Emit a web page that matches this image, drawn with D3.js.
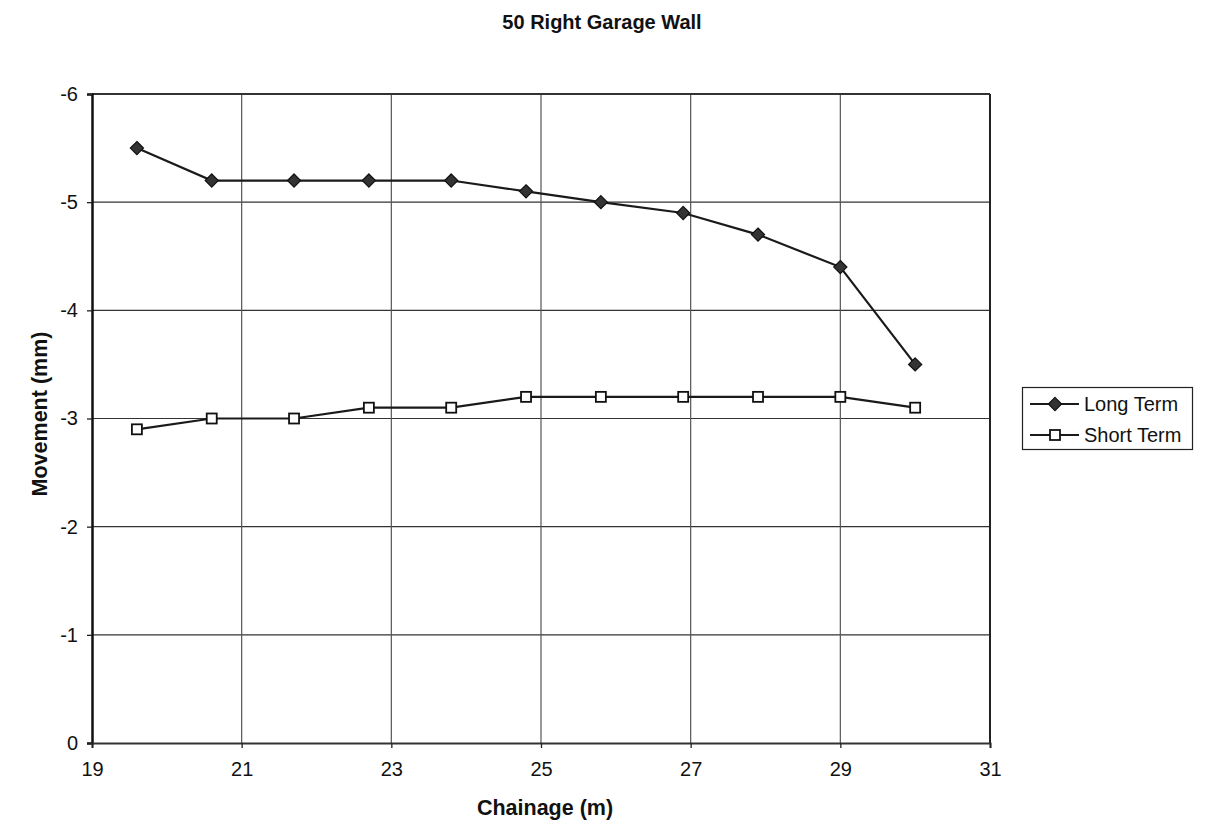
<!DOCTYPE html>
<html><head><meta charset="utf-8">
<script src="https://cdn.jsdelivr.net/npm/d3@7"></script>
<style>body{margin:0;background:#fff;} svg{display:block;}</style>
</head><body>
<svg id="c" width="1221" height="823"></svg>
<script>
const chainage = [19.6, 20.6, 21.7, 22.7, 23.8, 24.8, 25.8, 26.9, 27.9, 29.0, 30.0];
const longTerm = [-5.5, -5.2, -5.2, -5.2, -5.2, -5.1, -5.0, -4.9, -4.7, -4.4, -3.5];
const shortTerm = [-2.9, -3.0, -3.0, -3.1, -3.1, -3.2, -3.2, -3.2, -3.2, -3.2, -3.1];
const xTicks = [19, 21, 23, 25, 27, 29, 31];
const yTicks = [0, -1, -2, -3, -4, -5, -6];
const seriesNames = ["Long Term", "Short Term"];

const svg = d3.select("#c");
const font = "Arial, 'Liberation Sans', sans-serif";
const L = 92, R = 990, T = 94, B = 743;
const x = d3.scaleLinear().domain([19, 31]).range([L, R]);
const y = d3.scaleLinear().domain([0, -6]).range([B, T]);
const fmt = d => String(d);

// title
svg.append("text").attr("x", 602).attr("y", 29).attr("text-anchor", "middle")
  .attr("font-family", font).attr("font-weight", "bold").attr("font-size", 20)
  .attr("fill", "#111").text("50 Right Garage Wall");

// gridlines
svg.append("g").selectAll("line").data(yTicks.filter(d => d !== 0)).join("line")
  .attr("x1", L).attr("x2", R).attr("y1", d => y(d)).attr("y2", d => y(d))
  .attr("stroke", "#333").attr("stroke-width", 1.2);
svg.append("g").selectAll("line").data(xTicks.filter(d => d !== 19)).join("line")
  .attr("x1", d => x(d)).attr("x2", d => x(d)).attr("y1", T).attr("y2", B)
  .attr("stroke", "#555").attr("stroke-width", 1.2);
// top border and right border
svg.append("line").attr("x1", L).attr("x2", R).attr("y1", T).attr("y2", T).attr("stroke", "#333").attr("stroke-width", 2);
svg.append("line").attr("x1", R).attr("x2", R).attr("y1", T).attr("y2", B).attr("stroke", "#222").attr("stroke-width", 2);

// axes
const yAxis = svg.append("g").attr("transform", `translate(${L},0)`)
  .call(d3.axisLeft(y).tickValues(yTicks).tickFormat(fmt).tickSize(5).tickPadding(9));
const xAxis = svg.append("g").attr("transform", `translate(0,${B})`)
  .call(d3.axisBottom(x).tickValues(xTicks).tickFormat(fmt).tickSize(5).tickPadding(14));
[yAxis, xAxis].forEach(g => {
  g.selectAll("text").attr("font-family", font).attr("font-size", 20).attr("fill", "#111");
  g.selectAll("line").attr("stroke", "#222").attr("stroke-width", 1.3);
});
yAxis.select(".domain").attr("stroke", "#111").attr("stroke-width", 2.5);
xAxis.select(".domain").attr("stroke", "#333").attr("stroke-width", 2);

// axis titles
svg.append("text").attr("x", 545).attr("y", 815).attr("text-anchor", "middle")
  .attr("font-family", font).attr("font-weight", "bold").attr("font-size", 21.5)
  .attr("fill", "#111").text("Chainage (m)");
svg.append("text").attr("transform", `translate(47,414) rotate(-90)`)
  .attr("text-anchor", "middle")
  .attr("font-family", font).attr("font-weight", "bold").attr("font-size", 21.5)
  .attr("fill", "#111").text("Movement (mm)");

// lines
const line = d3.line().x((d, i) => x(chainage[i])).y(d => y(d));
svg.append("path").datum(longTerm).attr("d", line).attr("fill", "none").attr("stroke", "#1a1a1a").attr("stroke-width", 2.2);
svg.append("path").datum(shortTerm).attr("d", line).attr("fill", "none").attr("stroke", "#1a1a1a").attr("stroke-width", 2.2);

const diamond = d3.symbol().type(d3.symbolDiamond2).size(110);
svg.append("g").selectAll("path").data(longTerm).join("path")
  .attr("transform", (d, i) => `translate(${x(chainage[i])},${y(d)})`)
  .attr("d", diamond).attr("fill", "#333").attr("stroke", "#111").attr("stroke-width", 1.2);
svg.append("g").selectAll("rect").data(shortTerm).join("rect")
  .attr("x", (d, i) => x(chainage[i]) - 5).attr("y", d => y(d) - 5)
  .attr("width", 10).attr("height", 10)
  .attr("fill", "#fff").attr("stroke", "#111").attr("stroke-width", 1.8);

// legend
const lg = svg.append("g");
lg.append("rect").attr("x", 1022.5).attr("y", 387.5).attr("width", 170).attr("height", 62)
  .attr("fill", "#fff").attr("stroke", "#222").attr("stroke-width", 1.2);
seriesNames.forEach((name, i) => {
  const ly = 404 + i * 31;
  lg.append("line").attr("x1", 1030).attr("x2", 1079).attr("y1", ly).attr("y2", ly)
    .attr("stroke", "#1a1a1a").attr("stroke-width", 2.2);
  if (i === 0) {
    lg.append("path").attr("transform", `translate(1055,${ly})`).attr("d", diamond)
      .attr("fill", "#333").attr("stroke", "#111").attr("stroke-width", 1.2);
  } else {
    lg.append("rect").attr("x", 1050).attr("y", ly - 5).attr("width", 10).attr("height", 10)
      .attr("fill", "#fff").attr("stroke", "#111").attr("stroke-width", 1.8);
  }
  lg.append("text").attr("x", 1084).attr("y", ly + 7).attr("font-family", font)
    .attr("font-size", 20).attr("fill", "#111").text(name);
});
</script>
</body></html>
